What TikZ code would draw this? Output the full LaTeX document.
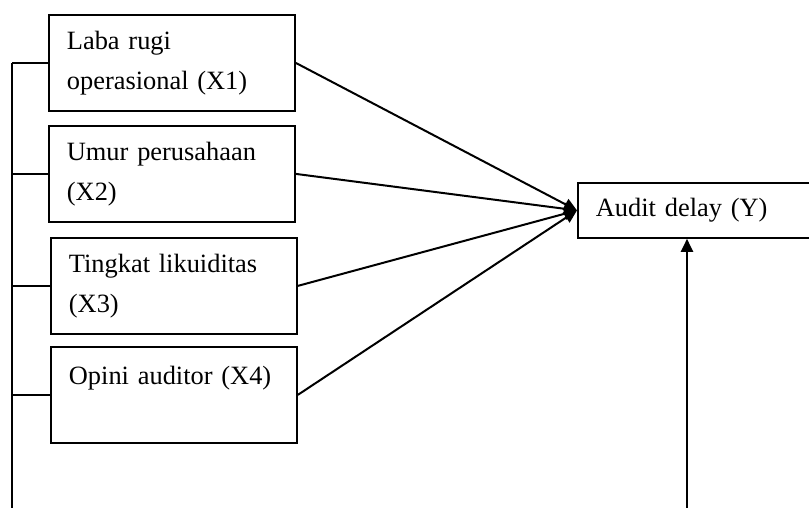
\documentclass[tikz,border=0pt]{standalone}
\usepackage{fontspec}
\setmainfont{Liberation Serif}
\usetikzlibrary{arrows.meta}

\tikzset{
    var/.style={draw, line width=0.9pt, anchor=north west, minimum width=123pt, minimum height=48pt,
        text width=105pt, inner xsep=9pt, align=left, font=\fontsize{13.2}{20}\selectfont},
    link/.style={line width=1pt, -{Triangle[length=6.5pt,width=6pt]}},
}

\begin{document}
\begin{tikzpicture}[x=0.5pt, y=-0.5pt]
        \useasboundingbox (0, 0) rectangle (809, 508);

        \node[var] (x1) at (48, 14) {Laba rugi\\operasional (X1)};
        \node[var] (x2) at (48, 125) {Umur perusahaan\\(X2)};
        \node[var] (x3) at (50, 237) {Tingkat likuiditas\\(X3)};
        \node[var] (x4) at (50, 346) {Opini auditor (X4)\\\mbox{}};
        \node[var, minimum width=119pt, text width=101pt, minimum height=27.5pt] (y) at (577, 182) {Audit delay (Y)};

        \foreach \v in {x1, x2, x3, x4} {
            \draw[link] (\v.east) -- (y.west);
        }

        \coordinate (bar) at (12, 508);
        \draw[line width=0.9pt] (bar) -- (bar |- x1.west);
        \foreach \v in {x1, x2, x3, x4} {
            \draw[line width=0.9pt] (bar |- \v.west) -- (\v.west);
        }

        \coordinate (ybase) at (687, 508);
        \draw[link] (ybase) -- (ybase |- y.south);
    \end{tikzpicture}
\end{document}
